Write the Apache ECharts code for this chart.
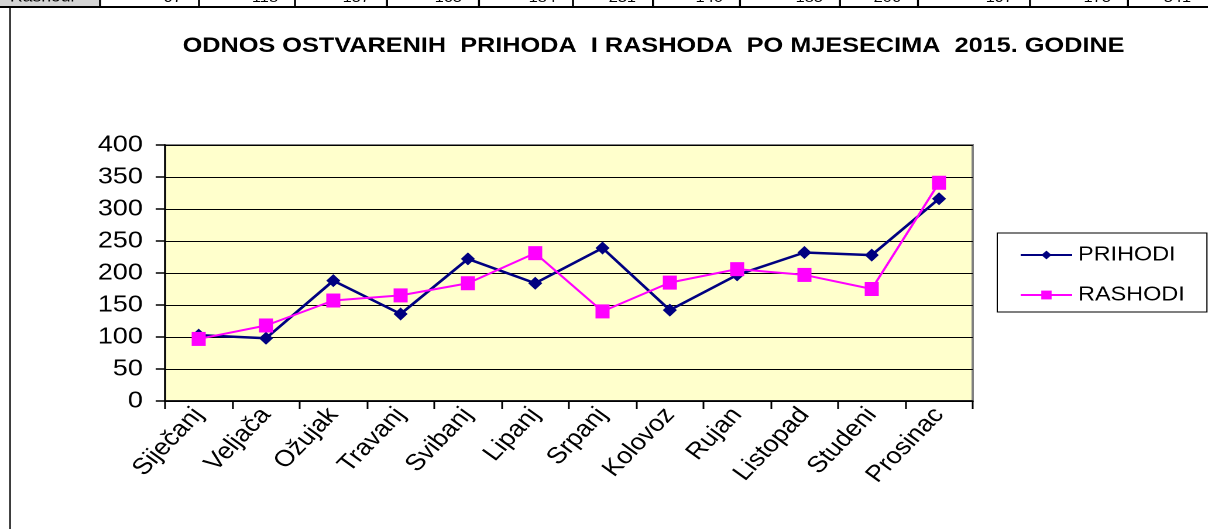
<!DOCTYPE html>
<html>
<head>
<meta charset="utf-8">
<script src="https://cdn.jsdelivr.net/npm/echarts@6/dist/echarts.min.js"></script>
<style>
  html, body { margin: 0; padding: 0; background: #fff; overflow: hidden; }
  /* the reference is stretched sideways, so the chart is drawn narrower and widened */
  #chart { width: 1032px; height: 529px; transform: scaleX(1.1705); transform-origin: 0 0; }
</style>
</head>
<body>
<div id="chart"></div>
<script>
const S = 1208 / 1032
const FONT = '"Liberation Sans", Arial, sans-serif'

const months = ['Siječanj', 'Veljača', 'Ožujak', 'Travanj', 'Svibanj', 'Lipanj', 'Srpanj', 'Kolovoz', 'Rujan', 'Listopad', 'Studeni', 'Prosinac']
const prihodi = [103, 98, 188, 136, 222, 184, 239, 142, 197, 232, 228, 316]
const rashodi = [97, 118, 157, 165, 184, 231, 140, 185, 206, 197, 175, 341]
const yMin = 0
const yMax = 400
const yStep = 50

// cut-off table row above the chart (cell edges, reference px)
const cellEdges = [100, 199, 295, 387, 479, 573, 653, 740, 840, 918, 1030, 1128, 1208]

function tableStrip () {
  let els = []
  els.push({ type: 'rect', shape: { x: 0, y: 0, width: 100 / S, height: 7 }, style: { fill: '#d4d4d4' }, silent: true })
  els.push({ type: 'text', x: 10 / S, y: 5, style: { text: 'Rashodi', font: '15px ' + FONT, fill: '#000', verticalAlign: 'bottom' }, silent: true })
  for (let i = 0; i < cellEdges.length - 1; i++) {
    els.push({ type: 'line', shape: { x1: cellEdges[i] / S, y1: 0, x2: cellEdges[i] / S, y2: 7 }, style: { stroke: '#000', lineWidth: 1.7 }, silent: true })
    els.push({
      type: 'text', x: (cellEdges[i + 1] - 17) / S, y: 5,
      style: { text: String(rashodi[i]), font: '14px ' + FONT, fill: '#000', align: 'right', verticalAlign: 'bottom' },
      silent: true
    })
  }
  els.push({ type: 'line', shape: { x1: 0, y1: 7, x2: 1032, y2: 7 }, style: { stroke: '#000', lineWidth: 2 }, silent: true })
  els.push({ type: 'line', shape: { x1: 10 / S, y1: 8, x2: 10 / S, y2: 529 }, style: { stroke: '#333', lineWidth: 1.8 }, silent: true })
  return els
}

let chart = echarts.init(document.getElementById('chart'), null, { renderer: 'canvas', devicePixelRatio: 2 })

let option = {
  backgroundColor: '#fff',
  animation: false,
  title: {
    text: 'ODNOS OSTVARENIH  PRIHODA  I RASHODA  PO MJESECIMA  2015. GODINE',
    left: 156,
    top: 35,
    padding: 0,
    textStyle: { fontFamily: FONT, fontSize: 21.6, fontWeight: 'bold', color: '#000' }
  },
  legend: {
    orient: 'vertical',
    left: 852,
    top: 233,
    padding: [12, 19, 7, 19],
    itemGap: 20,
    itemWidth: 44,
    itemHeight: 11,
    borderColor: '#000',
    borderWidth: 1,
    backgroundColor: '#fff',
    textStyle: { fontFamily: FONT, fontSize: 20, color: '#000' },
    data: ['PRIHODI', 'RASHODI']
  },
  grid: {
    left: 141,
    right: 201,
    top: 145,
    bottom: 128,
    show: true,
    backgroundColor: '#FFFFCC',
    borderColor: '#808080',
    borderWidth: 2
  },
  xAxis: {
    type: 'category',
    data: months,
    boundaryGap: true,
    axisLine: { lineStyle: { color: '#000', width: 1.5 } },
    axisTick: { show: true, length: 8, lineStyle: { color: '#000', width: 1.5 } },
    axisLabel: { rotate: 50, margin: 10, fontFamily: FONT, fontSize: 23, color: '#000', interval: 0 }
  },
  yAxis: {
    type: 'value',
    min: yMin,
    max: yMax,
    interval: yStep,
    axisLine: { show: true, lineStyle: { color: '#000', width: 1.5 } },
    axisTick: { show: true, length: 8, lineStyle: { color: '#000', width: 1.5 } },
    axisLabel: { margin: 19, fontFamily: FONT, fontSize: 23, color: '#000' },
    splitLine: { show: true, lineStyle: { color: '#000', width: 1 } }
  },
  series: [
    {
      name: 'PRIHODI',
      type: 'line',
      data: prihodi,
      symbol: 'diamond',
      symbolSize: [12, 13],
      lineStyle: { color: '#000080', width: 2.5 },
      itemStyle: { color: '#000080' }
    },
    {
      name: 'RASHODI',
      type: 'line',
      data: rashodi,
      symbol: 'rect',
      symbolSize: [12, 14],
      lineStyle: { color: '#FF00FF', width: 2 },
      itemStyle: { color: '#FF00FF' }
    }
  ],
  graphic: tableStrip()
}

chart.setOption(option)
</script>
</body>
</html>
